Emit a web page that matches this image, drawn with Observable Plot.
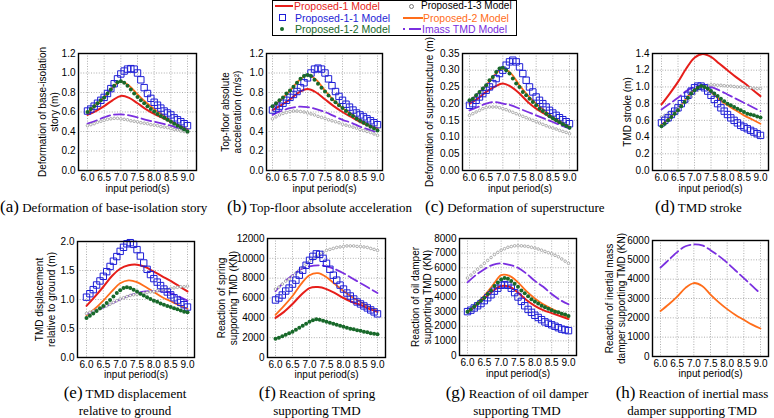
<!DOCTYPE html>
<html><head><meta charset="utf-8">
<script src="https://cdn.jsdelivr.net/npm/d3@7"></script>
<script src="https://cdn.jsdelivr.net/npm/@observablehq/plot@0.6"></script>
<style>
body{margin:0;background:#fff}
#root{position:relative;width:774px;height:418px;overflow:hidden;background:#fff;font-family:"Liberation Sans",Arial,Helvetica,sans-serif}
.cap{position:absolute;font-family:"Liberation Serif","Times New Roman",serif;font-size:13px;white-space:nowrap;line-height:17px;color:#000}
.cap .l{font-size:17px}
.cc{text-align:center;width:240px}
#legend{position:absolute;left:272px;top:0px;width:243px;height:34px;border:1px solid #000;overflow:hidden;background:#fff}
#legend div{position:absolute;box-sizing:border-box}
#legend .t{font-size:10.5px;line-height:12px;white-space:nowrap}
</style></head>
<body><div id="root"></div>
<script>
// ---------- data ----------
const xMarker = [6.0,6.1,6.2,6.3,6.4,6.5,6.6,6.7,6.8,6.9,7.0,7.1,7.2,7.3,7.4,7.5,7.6,7.7,7.8,7.9,8.0,8.1,8.2,8.3,8.4,8.5,8.6,8.7,8.8,8.9,9.0];
const xLine = [6.0,6.25,6.5,6.75,7.0,7.25,7.5,7.75,8.0,8.25,8.5,8.75,9.0];
const xTicks = [6.0,6.5,7.0,7.5,8.0,8.5,9.0];
const seriesNames = ["Proposed-1 Model","Proposed-1-1 Model","Proposed-1-2 Model","Proposed-1-3 Model","Proposed-2 Model","Imass TMD Model"];

// (a) deformation of base-isolation story
const aRed    = [0.57,0.61,0.66,0.72,0.765,0.745,0.69,0.63,0.58,0.54,0.50,0.46,0.42];
const aOrange = [0.59,0.67,0.75,0.85,0.915,0.87,0.78,0.70,0.63,0.57,0.51,0.46,0.42];
const aPurple = [0.48,0.51,0.545,0.57,0.575,0.565,0.545,0.52,0.50,0.48,0.46,0.43,0.41];
const aBlue   = [0.61,0.63,0.66,0.69,0.72,0.75,0.79,0.84,0.89,0.94,0.99,1.02,1.04,1.045,1.04,1.00,0.93,0.85,0.79,0.74,0.70,0.67,0.64,0.61,0.59,0.57,0.54,0.52,0.50,0.48,0.46];
const aGreen  = [0.60,0.63,0.66,0.69,0.72,0.75,0.79,0.83,0.87,0.905,0.915,0.90,0.87,0.83,0.79,0.755,0.72,0.69,0.66,0.63,0.605,0.58,0.56,0.54,0.52,0.50,0.48,0.46,0.44,0.42,0.40];
const aGray   = [0.46,0.47,0.48,0.495,0.505,0.515,0.525,0.53,0.535,0.535,0.53,0.525,0.52,0.51,0.505,0.50,0.49,0.485,0.48,0.47,0.465,0.46,0.45,0.445,0.44,0.43,0.42,0.415,0.405,0.40,0.39];
// (b) top-floor absolute acceleration
const bRed    = [0.62,0.67,0.73,0.80,0.835,0.80,0.73,0.66,0.60,0.55,0.50,0.46,0.43];
const bOrange = [0.65,0.73,0.82,0.92,0.98,0.93,0.82,0.72,0.64,0.58,0.52,0.47,0.42];
const bPurple = [0.57,0.61,0.64,0.655,0.65,0.63,0.60,0.56,0.52,0.49,0.45,0.42,0.39];
const bBlue   = [0.62,0.64,0.66,0.69,0.72,0.75,0.78,0.81,0.85,0.90,0.95,1.00,1.04,1.05,1.04,1.00,0.94,0.87,0.81,0.76,0.72,0.68,0.65,0.62,0.59,0.57,0.55,0.53,0.51,0.49,0.47];
const bGreen  = [0.66,0.69,0.72,0.75,0.79,0.82,0.86,0.90,0.94,0.97,0.98,0.97,0.93,0.89,0.85,0.81,0.77,0.73,0.70,0.67,0.64,0.61,0.58,0.56,0.53,0.51,0.49,0.47,0.45,0.43,0.41];
const bGray   = [0.53,0.55,0.57,0.585,0.595,0.605,0.61,0.61,0.605,0.60,0.59,0.58,0.57,0.555,0.545,0.535,0.52,0.51,0.50,0.49,0.475,0.465,0.455,0.445,0.435,0.42,0.41,0.40,0.39,0.375,0.36];
// (c) deformation of superstructure
const cRed    = [0.20,0.215,0.235,0.25,0.26,0.25,0.23,0.205,0.185,0.17,0.155,0.14,0.13];
const cOrange = [0.205,0.23,0.255,0.285,0.305,0.29,0.255,0.225,0.20,0.18,0.16,0.145,0.13];
const cPurple = [0.18,0.19,0.20,0.205,0.20,0.195,0.185,0.175,0.165,0.155,0.145,0.135,0.125];
const cBlue   = [0.195,0.20,0.21,0.22,0.23,0.24,0.25,0.26,0.275,0.29,0.30,0.315,0.325,0.33,0.325,0.31,0.29,0.27,0.25,0.235,0.22,0.21,0.20,0.19,0.18,0.172,0.165,0.158,0.152,0.146,0.14];
const cGreen  = [0.21,0.215,0.225,0.235,0.245,0.255,0.27,0.28,0.295,0.305,0.307,0.30,0.29,0.275,0.26,0.25,0.235,0.225,0.215,0.205,0.195,0.185,0.178,0.17,0.162,0.156,0.15,0.144,0.138,0.133,0.128];
const cGray   = [0.165,0.17,0.175,0.18,0.185,0.188,0.19,0.19,0.19,0.188,0.185,0.182,0.178,0.174,0.17,0.166,0.162,0.158,0.154,0.15,0.146,0.142,0.138,0.134,0.13,0.127,0.124,0.12,0.117,0.114,0.11];
// (d) TMD stroke
const dRed    = [0.79,0.92,1.06,1.22,1.35,1.395,1.36,1.28,1.20,1.12,1.05,0.97,0.89];
const dOrange = [0.55,0.63,0.73,0.86,0.97,1.01,0.94,0.85,0.78,0.72,0.66,0.61,0.56];
const dPurple = [0.73,0.80,0.87,0.95,1.00,1.02,1.00,0.96,0.91,0.86,0.81,0.76,0.71];
const dBlue   = [0.57,0.60,0.63,0.67,0.71,0.75,0.80,0.85,0.90,0.95,0.99,1.01,1.01,0.99,0.95,0.90,0.85,0.80,0.75,0.71,0.67,0.63,0.60,0.57,0.54,0.52,0.50,0.48,0.46,0.44,0.42];
const dGreen  = [0.53,0.56,0.60,0.64,0.68,0.72,0.77,0.82,0.87,0.92,0.96,0.99,1.01,1.00,0.98,0.95,0.92,0.89,0.86,0.83,0.80,0.78,0.76,0.74,0.72,0.70,0.68,0.67,0.66,0.645,0.635];
const dGray   = [0.64,0.66,0.68,0.70,0.72,0.75,0.78,0.81,0.84,0.88,0.92,0.96,0.99,1.01,1.02,1.025,1.025,1.02,1.02,1.015,1.01,1.01,1.005,1.0,1.0,0.995,0.99,0.99,0.985,0.98,0.98];
// (e) TMD displacement relative to ground
const eRed    = [0.89,1.05,1.22,1.40,1.53,1.59,1.60,1.56,1.48,1.40,1.32,1.23,1.14];
const eOrange = [0.73,0.84,0.98,1.14,1.28,1.33,1.30,1.22,1.13,1.04,0.97,0.90,0.84];
const ePurple = [0.75,0.80,0.86,0.93,1.00,1.06,1.11,1.14,1.15,1.14,1.11,1.05,0.98];
const eBlue   = [1.04,1.10,1.17,1.25,1.32,1.40,1.48,1.57,1.66,1.74,1.83,1.90,1.96,1.98,1.95,1.86,1.75,1.63,1.52,1.43,1.36,1.30,1.24,1.18,1.13,1.08,1.03,0.99,0.95,0.91,0.87];
const eGreen  = [0.68,0.72,0.76,0.80,0.85,0.89,0.94,0.99,1.05,1.11,1.16,1.20,1.21,1.20,1.17,1.14,1.10,1.07,1.04,1.01,0.98,0.96,0.93,0.91,0.89,0.87,0.85,0.83,0.81,0.79,0.78];
const eGray   = [0.76,0.78,0.80,0.82,0.84,0.87,0.89,0.92,0.95,0.98,1.01,1.03,1.05,1.07,1.08,1.09,1.10,1.11,1.12,1.13,1.14,1.15,1.16,1.17,1.18,1.19,1.20,1.21,1.22,1.22,1.23];
// (f) reaction of spring supporting TMD
const fRed    = [4000,4600,5400,6300,7000,7100,6900,6500,6000,5600,5300,4900,4600];
const fOrange = [4300,5200,6200,7400,8300,8500,8100,7400,6700,6100,5600,5100,4700];
const fPurple = [6700,7600,8300,8900,9200,9300,9200,8900,8500,8000,7500,7000,6500];
const fBlue   = [5800,6000,6300,6700,7000,7400,7800,8300,8800,9300,9800,10200,10450,10400,10000,9500,8900,8300,7800,7300,6900,6500,6200,5900,5600,5400,5200,5000,4800,4600,4400];
const fGreen  = [1900,2000,2150,2300,2450,2600,2800,3000,3200,3400,3600,3750,3850,3800,3700,3600,3500,3400,3300,3200,3100,3000,2900,2850,2750,2700,2600,2550,2450,2400,2350];
const fGray   = [6900,7100,7400,7700,7900,8200,8500,8800,9100,9400,9700,9900,10200,10400,10600,10800,10900,11000,11100,11150,11200,11250,11250,11250,11200,11200,11150,11100,11000,10900,10800];
// (g) reaction of oil damper supporting TMD
const gRed    = [2950,3400,3900,4400,4750,4700,4300,3800,3400,3100,2900,2700,2500];
const gOrange = [3000,3500,4100,4800,5500,5450,5000,4400,3900,3500,3200,2900,2600];
const gPurple = [5000,5500,5900,6200,6300,6200,6000,5600,5100,4700,4200,3800,3500];
const gBlue   = [3000,3100,3250,3400,3550,3750,3950,4150,4400,4600,4800,4850,4800,4600,4300,4000,3700,3400,3150,2950,2750,2600,2450,2300,2200,2100,2000,1900,1800,1750,1700];
const gGreen  = [3000,3150,3350,3550,3750,3950,4200,4450,4750,5000,5200,5300,5250,5100,4900,4700,4450,4250,4050,3850,3700,3550,3400,3300,3200,3100,3000,2950,2850,2800,2700];
const gGray   = [5300,5500,5700,5900,6100,6300,6500,6700,6900,7050,7200,7300,7400,7450,7500,7500,7500,7480,7450,7400,7350,7280,7200,7120,7030,6950,6850,6750,6600,6450,6300];
// (h) reaction of inertial mass damper supporting TMD
const hOrange = [2350,2700,3100,3550,3800,3650,3200,2800,2450,2150,1900,1650,1450];
const hPurple = [4600,5000,5400,5700,5800,5750,5500,5200,4850,4450,4050,3650,3250];

// y tick labels
const yTicksAB = [0,0.2,0.4,0.6,0.8,1.0,1.2];
const yTicksC  = [0,0.05,0.10,0.15,0.20,0.25,0.30,0.35];
const yTicksD  = [0,0.2,0.4,0.6,0.8,1.0,1.2,1.4];
const yTicksE  = [0,0.5,1.0,1.5,2.0];
const yTicksF  = [0,2000,4000,6000,8000,10000,12000];
const yTicksG  = [0,1000,2000,3000,4000,5000,6000,7000,8000];
const yTicksH  = [0,1000,2000,3000,4000,5000,6000];

const C = {red:"#e61e1a", blue:"#1e1ed6", green:"#18692a", gray:"#999999", orange:"#ff6d1a", purple:"#7a2fe0"};

const f1 = d3.format(".1f"), f2 = d3.format(".2f"), f0 = d3.format("d");
const panels = [
 {frame:[78,196,53,170], inset:[9,9], yMax:1.2, yTicks:yTicksAB, fmt:f1, ylab:"Deformation of base-isolation\nstory (m)", ylabX:47.5, xlabDy:18,
  red:aRed, orange:aOrange, purple:aPurple, gray:aGray, blue:aBlue, green:aGreen},
 {frame:[266,382,53,170], inset:[6,5], yMax:1.2, yTicks:yTicksAB, fmt:f1, ylab:"Top-floor absolute\nacceleration (m/s²)", ylabX:231, xlabDy:18,
  red:bRed, orange:bOrange, purple:bPurple, gray:bGray, blue:bBlue, green:bGreen},
 {frame:[462,577,53,170], inset:[7,8], yMax:0.35, yTicks:yTicksC, fmt:f2, ylab:"Deformation of superstructure (m)", ylabX:429, xlabDy:18,
  red:cRed, orange:cOrange, purple:cPurple, gray:cGray, blue:cBlue, green:cGreen},
 {frame:[652,768,53,170], inset:[9,8], yMax:1.4, yTicks:yTicksD, fmt:f1, ylab:"TMD stroke (m)", ylabX:627, xlabDy:18,
  red:dRed, orange:dOrange, purple:dPurple, gray:dGray, blue:dBlue, green:dGreen},
 {frame:[77,194,241,357], inset:[9,7], yMax:2.0, yTicks:yTicksE, fmt:f1, ylab:"TMD displacement\nrelative to ground (m)", ylabX:44.5, xlabDy:17,
  red:eRed, orange:eOrange, purple:ePurple, gray:eGray, blue:eBlue, green:eGreen},
 {frame:[267,385,238,357], inset:[8,8], yMax:12000, yTicks:yTicksF, fmt:f0, ylab:"Reaction of spring\nsupporting TMD (KN)", ylabX:226.5, xlabDy:17,
  red:fRed, orange:fOrange, purple:fPurple, gray:fGray, blue:fBlue, green:fGreen},
 {frame:[459,576,238,355], inset:[8,8], yMax:8000, yTicks:yTicksG, fmt:f0, ylab:"Reaction of oil damper\nsupporting TMD (KN)", ylabX:421, xlabDy:18,
  red:gRed, orange:gOrange, purple:gPurple, gray:gGray, blue:gBlue, green:gGreen},
 {frame:[652,768,240,356], inset:[8,8], yMax:6000, yTicks:yTicksH, fmt:f0, ylab:"Reaction of inertial mass\ndamper supporting TMD (KN)", ylabX:614.5, xlabDy:17,
  orange:hOrange, purple:hPurple}
];

const root = document.getElementById("root");
const FONT = "'Liberation Sans', Arial, Helvetica, sans-serif";

function build(p) {
  const [fx0, fx1, fy0, fy1] = p.frame;
  const L = fx0 - 72, T = fy0 - 12, R = Math.min(fx1 + 5, 774), B = fy1 + 28;
  const grid = {stroke:"#999999", strokeOpacity:1, strokeDasharray:"1,1.6", strokeWidth:0.8};
  const marks = [
    Plot.gridX(xTicks, grid),
    Plot.gridY(p.yTicks, grid)
  ];
  if (p.red) marks.push(Plot.lineY(p.red, {x:xLine, curve:"catmull-rom", stroke:C.red, strokeWidth:2}));
  if (p.orange) marks.push(Plot.lineY(p.orange, {x:xLine, curve:"catmull-rom", stroke:C.orange, strokeWidth:1.8}));
  if (p.purple) marks.push(Plot.lineY(p.purple, {x:xLine, curve:"catmull-rom", stroke:C.purple, strokeWidth:1.8, strokeDasharray:"10,4"}));
  if (p.gray) marks.push(Plot.dot(p.gray, {x:xMarker, y:d=>d, r:1.3, stroke:C.gray, strokeWidth:0.8, fill:"white"}));
  if (p.blue) marks.push(Plot.dot(p.blue, {x:xMarker, y:d=>d, symbol:"square", r:3.6, stroke:C.blue, strokeWidth:1, fill:"none"}));
  if (p.green) marks.push(Plot.dot(p.green, {x:xMarker, y:d=>d, r:2, fill:C.green, stroke:"none"}));
  marks.push(
    Plot.frame({stroke:"#000", strokeWidth:1.4}),
    Plot.axisX(xTicks, {tickSize:0, tickPadding:3, tickFormat:f1, label:null, fontSize:10}),
    Plot.axisY(p.yTicks, {tickSize:0, tickPadding:3, tickFormat:p.fmt, label:null, fontSize:10}),
    Plot.text(["input period(s)"], {text:d=>d, frameAnchor:"bottom", dy:p.xlabDy, lineAnchor:"middle", fontSize:10}),
    Plot.text([p.ylab], {text:d=>d, frameAnchor:"left", dx:p.ylabX - fx0, rotate:-90, textAnchor:"middle", lineAnchor:"middle", lineHeight:1.2, fontSize:10})
  );
  const svg = Plot.plot({
    width: R - L, height: B - T,
    marginLeft: fx0 - L, marginRight: R - fx1, marginTop: fy0 - T, marginBottom: B - fy1,
    x: {domain:[6, 9], insetLeft:p.inset[0], insetRight:p.inset[1]},
    y: {domain:[0, p.yMax]},
    style: {background:"none", overflow:"visible", fontFamily:FONT, fontSize:"10px", color:"#000"},
    marks
  });
  svg.style.position = "absolute";
  svg.style.left = L + "px";
  svg.style.top = T + "px";
  svg.style.maxWidth = "none";
  root.appendChild(svg);
}
panels.forEach(build);

// ---------- captions ----------
const topCaps = [
  ["(a)", "Deformation of base-isolation story", 0],
  ["(b)", "Top-floor absolute acceleration", 227],
  ["(c)", "Deformation of superstructure", 425],
  ["(d)", "TMD stroke", 655]
];
topCaps.forEach(([l, t, x]) => {
  const d = document.createElement("div");
  d.className = "cap";
  d.style.left = x + "px"; d.style.top = "198px";
  d.innerHTML = `<span class="l">${l}</span> ${t}`;
  root.appendChild(d);
});
const botCaps = [
  ["(e)", "TMD displacement", "relative to ground", 125],
  ["(f)", "Reaction of spring", "supporting TMD", 317],
  ["(g)", "Reaction of oil damper", "supporting TMD", 517],
  ["(h)", "Reaction of inertial mass", "damper supporting TMD", 692]
];
botCaps.forEach(([l, t1, t2, cx]) => {
  const d = document.createElement("div");
  d.className = "cap cc";
  d.style.left = (cx - 120) + "px"; d.style.top = "384px";
  d.innerHTML = `<span class="l">${l}</span> ${t1}<br>${t2}`;
  root.appendChild(d);
});

// ---------- legend ----------
const lg = document.createElement("div");
lg.id = "legend";
const ox = 273, oy = 1;
function box(x, y, w, h, css) {
  const e = document.createElement("div");
  e.style.left = (x - ox) + "px"; e.style.top = (y - oy) + "px";
  e.style.width = w + "px"; e.style.height = h + "px";
  e.style.cssText += css;
  lg.appendChild(e);
}
function txt(x, cy, s, color, size) {
  const e = document.createElement("div");
  e.className = "t";
  e.style.left = (x - ox) + "px"; e.style.top = (cy - 6 - oy) + "px";
  e.style.color = color;
  if (size) e.style.fontSize = size + "px";
  e.textContent = s;
  lg.appendChild(e);
}
const rows = [6, 17.5, 29];
box(275, rows[0] - 1, 18, 2, `background:${C.red}`);
txt(294, rows[0], seriesNames[0], C.red);
box(278.5, rows[1] - 3.5, 7, 7, `border:1px solid ${C.blue}`);
txt(295, rows[1], seriesNames[1], C.blue);
box(280, rows[2] - 2, 4, 4, `background:${C.green};border-radius:50%`);
txt(295, rows[2], seriesNames[2], C.green);
box(408.5, rows[0] - 2.5, 5, 5, `border:1px solid #777;border-radius:50%`);
txt(421, rows[0], seriesNames[3], "#000", 10);
box(403, rows[1] - 1, 20, 2, `background:${C.orange}`);
txt(423, rows[1], seriesNames[4], C.orange);
box(403, rows[2] - 1, 2, 2, `background:${C.purple}`);
box(409, rows[2] - 1, 12, 2, `background:${C.purple}`);
txt(422, rows[2], seriesNames[5], C.purple);
root.appendChild(lg);
</script>
</body></html>
